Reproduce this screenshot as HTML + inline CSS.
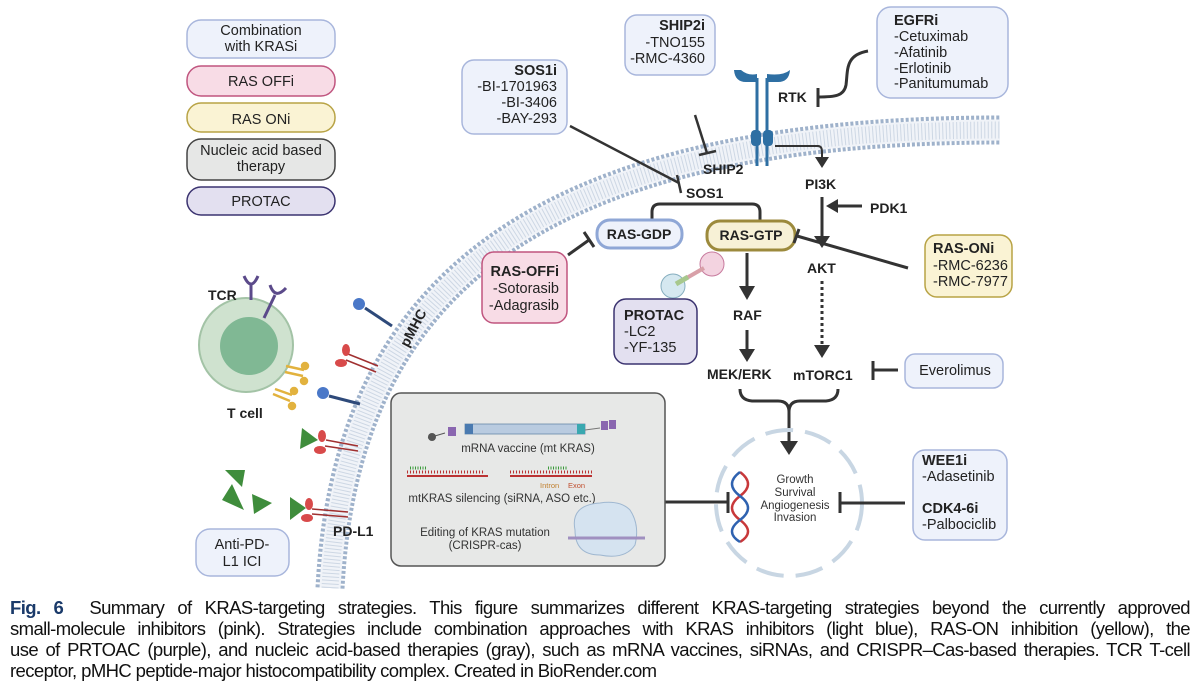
<!DOCTYPE html>
<html><head><meta charset="utf-8">
<style>
html,body{margin:0;padding:0;background:#fff;}
body{width:1200px;height:691px;position:relative;overflow:hidden;font-family:"Liberation Sans",sans-serif;}
svg{position:absolute;left:0;top:0;}
.cap{position:absolute;left:10px;width:1180px;font-size:18.5px;letter-spacing:-0.6px;color:#111;text-align:justify;text-align-last:justify;white-space:nowrap;line-height:21px;}
.cap.last{text-align-last:left;}
</style></head><body>
<svg width="1200" height="600" viewBox="0 0 1200 600" font-family="Liberation Sans, sans-serif">
<!-- membrane -->
<path d="M330 588 C345 300,520 130,1000 130" fill="none" stroke="#9fb2cb" stroke-width="29" stroke-dasharray="3 2"/>
<path d="M330 588 C345 300,520 130,1000 130" fill="none" stroke="#f0f3f8" stroke-width="21"/>
<path d="M330 588 C345 300,520 130,1000 130" fill="none" stroke="#cdd7e4" stroke-width="17" stroke-dasharray="1 2.5"/>

<!-- legend -->
<g font-size="14.5" text-anchor="middle" fill="#222">
<rect x="187" y="20" width="148" height="38" rx="14" fill="#eef2fb" stroke="#a8b6dc" stroke-width="1.5"/>
<text x="261" y="35">Combination</text><text x="261" y="51">with KRASi</text>
<rect x="187" y="66" width="148" height="30" rx="14" fill="#f8dce6" stroke="#c0557f" stroke-width="1.5"/>
<text x="261" y="86">RAS OFFi</text>
<rect x="187" y="103" width="148" height="29" rx="14" fill="#faf3d4" stroke="#b8a345" stroke-width="1.5"/>
<text x="261" y="124">RAS ONi</text>
<rect x="187" y="139" width="148" height="41" rx="14" fill="#e6e7e6" stroke="#444" stroke-width="1.5"/>
<text x="261" y="155">Nucleic acid based</text><text x="261" y="171">therapy</text>
<rect x="187" y="187" width="148" height="28" rx="14" fill="#e3e0f0" stroke="#3b3370" stroke-width="1.5"/>
<text x="261" y="206">PROTAC</text>
</g>

<!-- SOS1i -->
<rect x="462" y="60" width="105" height="74" rx="12" fill="#eef2fb" stroke="#a8b6dc" stroke-width="1.5"/>
<g font-size="14.5" text-anchor="end" fill="#222"><text x="557" y="75" font-weight="bold">SOS1i</text><text x="557" y="91">-BI-1701963</text><text x="557" y="107">-BI-3406</text><text x="557" y="123">-BAY-293</text></g>
<!-- SHIP2i -->
<rect x="625" y="15" width="90" height="60" rx="12" fill="#eef2fb" stroke="#a8b6dc" stroke-width="1.5"/>
<g font-size="14.5" text-anchor="end" fill="#222"><text x="705" y="30" font-weight="bold">SHIP2i</text><text x="705" y="47">-TNO155</text><text x="705" y="63">-RMC-4360</text></g>
<!-- EGFRi -->
<rect x="877" y="7" width="131" height="91" rx="14" fill="#eef2fb" stroke="#a8b6dc" stroke-width="1.5"/>
<g font-size="14.5" fill="#222"><text x="894" y="25" font-weight="bold">EGFRi</text><text x="894" y="41">-Cetuximab</text><text x="894" y="57">-Afatinib</text><text x="894" y="73">-Erlotinib</text><text x="894" y="88">-Panitumumab</text></g>
<path d="M868 51 C845 55,848 70,846 85 C844 96,835 97,818 97" fill="none" stroke="#333" stroke-width="3"/>
<line x1="818" y1="88" x2="818" y2="107" stroke="#333" stroke-width="3"/>
<!-- RTK -->
<g stroke="#2e6fa3" stroke-width="3" fill="none">
<line x1="757" y1="78" x2="757" y2="166"/><line x1="767" y1="78" x2="767" y2="166"/>
</g>
<path d="M734 70 Q735 82,746 82 L757 82 L757 74 Q748 76,741 70 z" fill="#2e6fa3"/>
<path d="M767 74 L767 82 L778 82 Q789 82,790 70 Q783 76,767 74 z" fill="#2e6fa3"/>
<rect x="751" y="130" width="10" height="16" rx="4" fill="#2e6fa3"/><rect x="763" y="130" width="10" height="16" rx="4" fill="#2e6fa3"/>
<g font-size="14" font-weight="bold" fill="#222">
<text x="778" y="102">RTK</text>
<text x="703" y="174">SHIP2</text>
<text x="686" y="198">SOS1</text>
<text x="805" y="189">PI3K</text>
<text x="870" y="213">PDK1</text>
<text x="807" y="273">AKT</text>
<text x="733" y="320">RAF</text>
<text x="707" y="379">MEK/ERK</text>
<text x="793" y="380">mTORC1</text>
</g>
<line x1="695" y1="115" x2="707" y2="153" stroke="#333" stroke-width="2.5"/>
<line x1="699" y1="155" x2="716" y2="151" stroke="#333" stroke-width="2.5"/>
<line x1="570" y1="126" x2="679" y2="183" stroke="#333" stroke-width="2.5"/>
<line x1="677" y1="175" x2="681" y2="193" stroke="#333" stroke-width="2.5"/>
<path d="M775 146 L818 146 Q822 146,822 152 L822 158" fill="none" stroke="#333" stroke-width="2"/>
<path d="M815 157 L829 157 L822 168 z" fill="#333"/>
<line x1="822" y1="197" x2="822" y2="238" stroke="#333" stroke-width="3"/>
<path d="M814 236 L830 236 L822 248 z" fill="#333"/>
<line x1="862" y1="206" x2="836" y2="206" stroke="#333" stroke-width="3"/>
<path d="M838 199 L838 213 L826 206 z" fill="#333"/>
<line x1="822" y1="281" x2="822" y2="347" stroke="#333" stroke-width="3" stroke-dasharray="3 3"/>
<path d="M814 345 L830 345 L822 358 z" fill="#333"/>
<!-- RAS boxes -->
<path d="M652 220 L652 212 Q652 204,660 204 L752 204 Q760 204,760 212 L760 220" fill="none" stroke="#333" stroke-width="3"/>
<rect x="597" y="220" width="85" height="28" rx="13" fill="#eef2fb" stroke="#8fa7d6" stroke-width="3"/>
<text x="639" y="239" font-size="14" font-weight="bold" text-anchor="middle" fill="#222">RAS-GDP</text>
<rect x="707" y="221" width="88" height="29" rx="13" fill="#f7f1d6" stroke="#9c8a3c" stroke-width="3"/>
<text x="751" y="240" font-size="14" font-weight="bold" text-anchor="middle" fill="#222">RAS-GTP</text>
<line x1="908" y1="268" x2="797" y2="236" stroke="#333" stroke-width="3"/>
<line x1="794" y1="243" x2="799" y2="229" stroke="#333" stroke-width="3"/>
<rect x="925" y="235" width="87" height="62" rx="12" fill="#faf3d4" stroke="#b8a345" stroke-width="1.5"/>
<g font-size="14.5" fill="#222"><text x="933" y="253" font-weight="bold">RAS-ONi</text><text x="933" y="270">-RMC-6236</text><text x="933" y="286">-RMC-7977</text></g>
<line x1="568" y1="255" x2="589" y2="240" stroke="#333" stroke-width="3"/>
<line x1="584" y1="232" x2="594" y2="247" stroke="#333" stroke-width="3"/>
<rect x="482" y="252" width="85" height="71" rx="12" fill="#f8dce6" stroke="#c0557f" stroke-width="1.5"/>
<g font-size="14.5" fill="#222" text-anchor="end"><text x="559" y="276" font-weight="bold">RAS-OFFi</text><text x="559" y="293">-Sotorasib</text><text x="559" y="310">-Adagrasib</text></g>
<!-- PROTAC -->
<circle cx="712" cy="264" r="12" fill="#f3d3e0" stroke="#c77a9d" stroke-width="1"/>
<circle cx="673" cy="286" r="12" fill="#d5e8f0" stroke="#86aebf" stroke-width="1"/>
<path d="M678 283 L704 268" stroke="#d8a0a8" stroke-width="4" fill="none"/>
<path d="M676 284 L688 277" stroke="#a7c88d" stroke-width="5" fill="none"/>
<rect x="614" y="299" width="83" height="65" rx="12" fill="#e3e0f0" stroke="#3b3370" stroke-width="1.5"/>
<g font-size="14.5" fill="#222"><text x="624" y="320" font-weight="bold">PROTAC</text><text x="624" y="336">-LC2</text><text x="624" y="352">-YF-135</text></g>
<line x1="747" y1="253" x2="747" y2="288" stroke="#333" stroke-width="3"/>
<path d="M739 286 L755 286 L747 300 z" fill="#333"/>
<line x1="747" y1="330" x2="747" y2="351" stroke="#333" stroke-width="3"/>
<path d="M739 349 L755 349 L747 362 z" fill="#333"/>
<line x1="873" y1="370" x2="898" y2="370" stroke="#333" stroke-width="3"/>
<line x1="873" y1="361" x2="873" y2="380" stroke="#333" stroke-width="3"/>
<rect x="905" y="354" width="98" height="34" rx="10" fill="#eef2fb" stroke="#a8b6dc" stroke-width="1.5"/>
<text x="955" y="375" font-size="14.5" text-anchor="middle" fill="#222">Everolimus</text>
<path d="M740 389 Q740 400,752 401 L778 401 Q789 401,789 412 Q789 401,800 401 L826 401 Q838 400,838 389" fill="none" stroke="#333" stroke-width="3"/>
<line x1="789" y1="410" x2="789" y2="443" stroke="#333" stroke-width="3"/>
<path d="M780 441 L798 441 L789 455 z" fill="#333"/>
<circle cx="789" cy="503" r="73" fill="none" stroke="#c8d6e3" stroke-width="4" stroke-dasharray="28 12"/>
<path d="M740 472 Q756 484,740 496 Q724 508,740 520 Q756 532,740 542" fill="none" stroke="#c8383a" stroke-width="2.5"/>
<path d="M740 472 Q724 484,740 496 Q756 508,740 520 Q724 532,740 542" fill="none" stroke="#2f62b0" stroke-width="2.5"/>
<g font-size="11.5" text-anchor="middle" fill="#333"><text x="795" y="483">Growth</text><text x="795" y="496">Survival</text><text x="795" y="509">Angiogenesis</text><text x="795" y="521">Invasion</text></g>
<line x1="650" y1="502" x2="727" y2="502" stroke="#333" stroke-width="3"/>
<line x1="728" y1="492" x2="728" y2="513" stroke="#333" stroke-width="3"/>
<line x1="840" y1="503" x2="905" y2="503" stroke="#333" stroke-width="3"/>
<line x1="840" y1="492" x2="840" y2="513" stroke="#333" stroke-width="3"/>
<rect x="913" y="450" width="94" height="90" rx="12" fill="#eef2fb" stroke="#a8b6dc" stroke-width="1.5"/>
<g font-size="14.5" fill="#222"><text x="922" y="465" font-weight="bold">WEE1i</text><text x="922" y="481">-Adasetinib</text><text x="922" y="513" font-weight="bold">CDK4-6i</text><text x="922" y="529">-Palbociclib</text></g>
<!-- gray box -->
<rect x="391" y="393" width="274" height="173" rx="10" fill="#e7e8e7" stroke="#555" stroke-width="1.5"/>
<path d="M428 438 L445 433" stroke="#555" stroke-width="1"/>
<circle cx="432" cy="437" r="4" fill="#555"/>
<rect x="448" y="427" width="8" height="9" fill="#8a66b0"/>
<rect x="465" y="424" width="120" height="10" fill="#b9cbe0" stroke="#6688aa" stroke-width="0.8"/>
<rect x="465" y="424" width="8" height="10" fill="#4a7ab0"/><rect x="577" y="424" width="8" height="10" fill="#3aa8b0"/>
<path d="M585 430 L600 428" stroke="#777"/>
<rect x="601" y="421" width="7" height="9" fill="#8a66b0"/><rect x="609" y="420" width="7" height="9" fill="#8a66b0"/>
<text x="528" y="452" font-size="11.5" text-anchor="middle" fill="#333">mRNA vaccine (mt KRAS)</text>
<line x1="407" y1="476" x2="488" y2="476" stroke="#b33" stroke-width="2"/>
<line x1="407" y1="472" x2="485" y2="472" stroke="#b33" stroke-width="3" stroke-dasharray="1 2"/>
<line x1="410" y1="468" x2="427" y2="468" stroke="#3a9a3a" stroke-width="3" stroke-dasharray="1 1.5"/>
<line x1="510" y1="476" x2="592" y2="476" stroke="#b33" stroke-width="2"/>
<line x1="510" y1="472" x2="592" y2="472" stroke="#b33" stroke-width="3" stroke-dasharray="1 2"/>
<line x1="548" y1="468" x2="568" y2="468" stroke="#3a9a3a" stroke-width="3" stroke-dasharray="1 1.5"/>
<text x="540" y="488" font-size="7.5" fill="#c08030">Intron</text><text x="568" y="488" font-size="7.5" fill="#c05030">Exon</text>
<text x="502" y="502" font-size="11.5" text-anchor="middle" fill="#333">mtKRAS silencing (siRNA, ASO etc.)</text>
<text x="485" y="536" font-size="11.5" text-anchor="middle" fill="#333">Editing of KRAS mutation</text>
<text x="485" y="549" font-size="11.5" text-anchor="middle" fill="#333">(CRISPR-cas)</text>
<path d="M575 530 Q570 505,600 503 Q620 500,630 510 Q640 525,635 545 Q625 560,600 555 Q575 555,575 530 z" fill="#d5e3f0" stroke="#9fb7d0"/>
<line x1="568" y1="538" x2="645" y2="538" stroke="#a090c0" stroke-width="3"/>
<!-- T cell -->
<circle cx="246" cy="345" r="47" fill="#cfe2cf" stroke="#a3c3a6" stroke-width="2"/>
<circle cx="249" cy="346" r="29" fill="#80b894"/>
<g stroke="#5b4a8a" stroke-width="3" fill="none">
<line x1="251" y1="300" x2="251" y2="285"/><path d="M244 276 Q251 292,258 276"/>
<line x1="264" y1="318" x2="275" y2="295"/><path d="M270 285 Q275 300,286 288"/>
</g>
<g fill="#e2b23e" stroke="#e2b23e" stroke-width="2.5">
<line x1="286" y1="366" x2="304" y2="370"/><line x1="285" y1="372" x2="303" y2="376"/><circle cx="305" cy="366" r="3"/><circle cx="304" cy="381" r="3"/>
<line x1="275" y1="389" x2="292" y2="395"/><line x1="273" y1="394" x2="290" y2="401"/><circle cx="294" cy="391" r="3"/><circle cx="292" cy="406" r="3"/>
</g>
<g font-size="14" font-weight="bold" fill="#222"><text x="208" y="300">TCR</text><text x="227" y="418">T cell</text><text x="333" y="536">PD-L1</text></g>
<text transform="translate(408,348) rotate(-62)" font-size="14" font-weight="bold" fill="#222">pMHC</text>
<g stroke="#2e4a7a" stroke-width="3"><line x1="365" y1="308" x2="392" y2="326"/><line x1="329" y1="396" x2="360" y2="404"/></g>
<circle cx="359" cy="304" r="6" fill="#4a78c8"/><circle cx="323" cy="393" r="6" fill="#4a78c8"/>
<g stroke="#a03030" stroke-width="1.5"><line x1="348" y1="354" x2="378" y2="366"/><line x1="346" y1="360" x2="376" y2="372"/>
<line x1="326" y1="440" x2="358" y2="446"/><line x1="325" y1="446" x2="358" y2="451"/>
<line x1="312" y1="509" x2="348" y2="512"/><line x1="312" y1="514" x2="348" y2="517"/></g>
<g fill="#d84a4a"><ellipse cx="346" cy="350" rx="4" ry="6"/><ellipse cx="341" cy="363" rx="6" ry="4"/>
<ellipse cx="322" cy="436" rx="4" ry="6"/><ellipse cx="320" cy="450" rx="6" ry="4"/>
<ellipse cx="309" cy="504" rx="4" ry="6"/><ellipse cx="307" cy="518" rx="6" ry="4"/></g>
<g fill="#3f8d3c">
<path d="M302 428 L318 440 L300 449 z"/>
<path d="M290 497 L306 508 L290 520 z"/>
<path d="M225 470 L245 470 L242 487 z"/>
<path d="M222 500 L232 484 L244 510 z"/>
<path d="M252 494 L272 503 L254 514 z"/>
</g>
<rect x="196" y="529" width="93" height="47" rx="14" fill="#eef2fb" stroke="#a8b6dc" stroke-width="1.5"/>
<text x="242" y="549" font-size="14.5" text-anchor="middle" fill="#222">Anti-PD-</text>
<text x="242" y="566" font-size="14.5" text-anchor="middle" fill="#222">L1 ICI</text>
</svg>
<div class="cap" style="top:597px"><b style="color:#1a3a6a">Fig. 6</b>&nbsp; Summary of KRAS-targeting strategies. This figure summarizes different KRAS-targeting strategies beyond the currently approved</div>
<div class="cap" style="top:618px">small-molecule inhibitors (pink). Strategies include combination approaches with KRAS inhibitors (light blue), RAS-ON inhibition (yellow), the</div>
<div class="cap" style="top:639px">use of PRTOAC (purple), and nucleic acid-based therapies (gray), such as mRNA vaccines, siRNAs, and CRISPR–Cas-based therapies. TCR T-cell</div>
<div class="cap last" style="top:660px">receptor, pMHC peptide-major histocompatibility complex. Created in BioRender.com</div>
</body></html>
